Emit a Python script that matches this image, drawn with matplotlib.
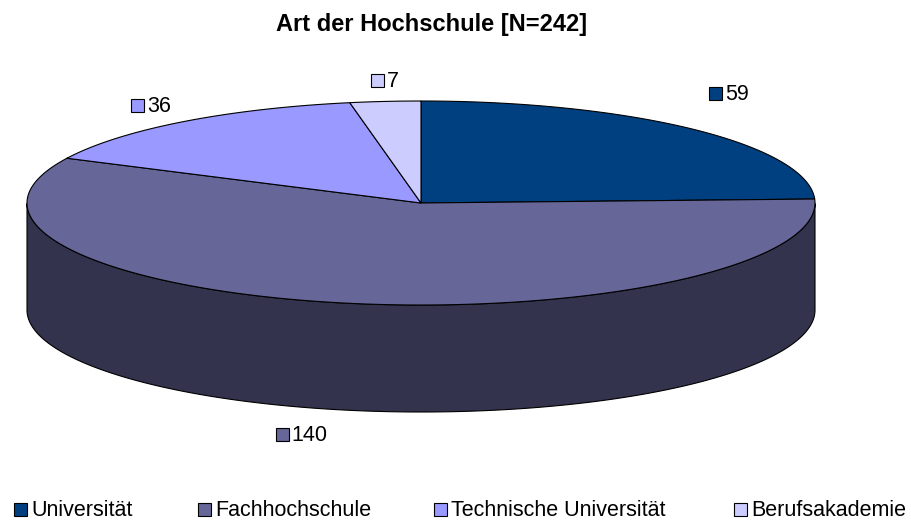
import numpy as np
import matplotlib.pyplot as plt
from matplotlib.patches import Polygon, Rectangle
from matplotlib.colors import to_rgb

categories = ['Universität', 'Fachhochschule', 'Technische Universität', 'Berufsakademie']
values = [59, 140, 36, 7]
colors = ['#004080', '#666699', '#9999FF', '#CCCCFF']
title = 'Art der Hochschule [N=242]'

plt.rcParams['font.family'] = ['Liberation Sans', 'DejaVu Sans']

fig = plt.figure(figsize=(9.11, 5.2), dpi=100)
ax = fig.add_axes([0, 0, 1, 1])
ax.set_xlim(0, 911)
ax.set_ylim(520, 0)
ax.axis('off')

# ellipse of the pie top, in pixels
cx, cy, rx, ry, depth = 421, 203, 394, 102, 107

frac = np.array(values) / sum(values)
angles = 90 - 360 * np.concatenate([[0], np.cumsum(frac)])


def pt(t, dz=0):
    r = np.radians(t)
    return cx + rx * np.cos(r), cy - ry * np.sin(r) + dz


# side walls (front half only)
for i in range(len(values)):
    t = np.linspace(angles[i], angles[i + 1], 500)
    front = np.sin(np.radians(t)) <= 0
    if not front.any():
        continue
    x, y = pt(t[front])
    xs = np.concatenate([x, x[::-1]])
    ys = np.concatenate([y, y[::-1] + depth])
    side = tuple(np.array(to_rgb(colors[i])) * 0.5)
    ax.add_patch(Polygon(np.column_stack([xs, ys]), closed=True,
                         fc=side, ec='black', lw=0.8))

# top faces
for i in range(len(values)):
    t = np.linspace(angles[i], angles[i + 1], 500)
    x, y = pt(t)
    xs = np.concatenate([[cx], x])
    ys = np.concatenate([[cy], y])
    ax.add_patch(Polygon(np.column_stack([xs, ys]), closed=True,
                         fc=colors[i], ec='black', lw=0.8))

# value labels (square + number), placed outside the slice middle
fs = 15.5
nudge = [(0, -18), (-27, 0), (0, 4), (5, 4)]
for i, v in enumerate(values):
    mid = np.radians((angles[i] + angles[i + 1]) / 2)
    lx = cx + rx * 1.13 * np.cos(mid) + nudge[i][0]
    ly = cy - ry * 1.25 * np.sin(mid) + (depth if np.sin(mid) < 0 else 0) + nudge[i][1]
    w = 13 + 4 + 12 * len(str(v))
    left = lx - w / 2
    ax.add_patch(Rectangle((left, ly - 6.5), 13, 13, fc=colors[i],
                           ec='black', lw=0.8))
    ax.text(left + 16, ly + 1, str(v), fontsize=fs, ha='left', va='center')

# legend
leg_x = [14, 198, 434, 734]
for i, c in enumerate(categories):
    ax.add_patch(Rectangle((leg_x[i], 503), 13, 13, fc=colors[i],
                           ec='black', lw=0.8))
    ax.text(leg_x[i] + 17, 510.5, c, fontsize=fs, ha='left', va='center')

ax.text(432, 25, title, fontsize=17, fontweight='bold', ha='center', va='center')

fig.savefig('out.png', dpi=100)
